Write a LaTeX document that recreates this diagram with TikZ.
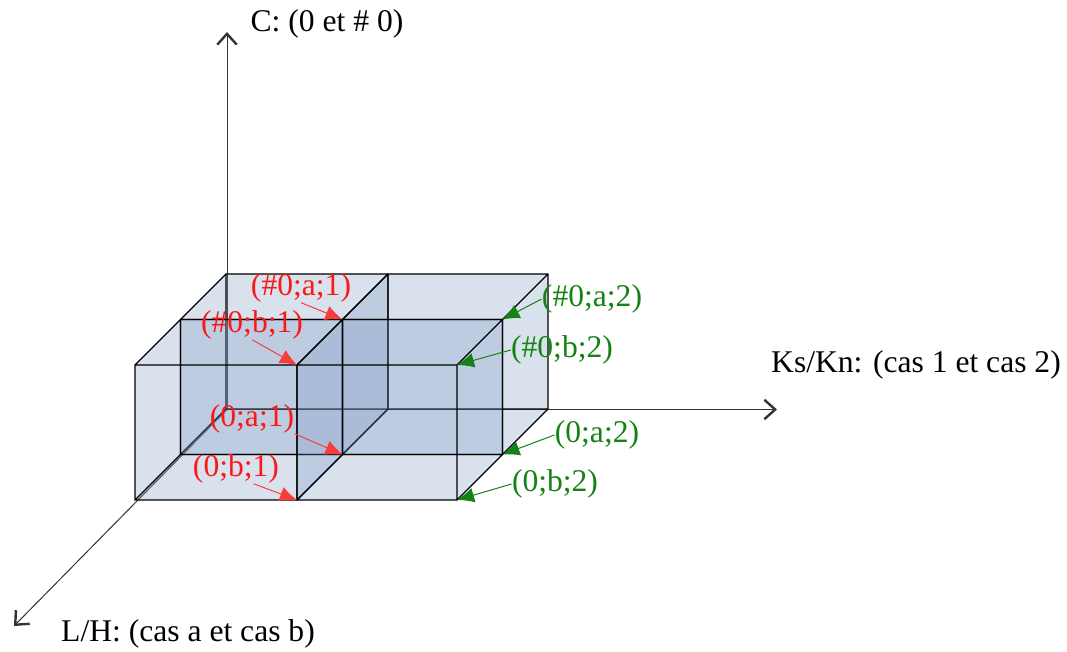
\documentclass[tikz,border=0pt]{standalone}
\usepackage{fontspec}
\setmainfont{Liberation Serif}
\usetikzlibrary{arrows.meta}
\definecolor{labred}{RGB}{250,25,25}
\definecolor{labgreen}{RGB}{20,130,20}
\definecolor{boxblue}{RGB}{120,148,192}
\tikzset{
  axis/.style={draw=black!80, line width=0.5pt, -{Straight Barb[length=1.9mm,width=3.4mm,line width=1.2pt]}},
  axislabel/.style={font=\fontsize{15.8}{18}\selectfont, inner sep=0pt},
  redlabel/.style={axislabel, text=labred},
  greenlabel/.style={axislabel, text=labgreen},
  redarrow/.style={draw=labred!85, line width=0.5pt, -{Latex[length=3mm,width=2.6mm]}},
  greenarrow/.style={draw=labgreen, line width=0.5pt, -{Latex[length=3mm,width=2.6mm]}},
  boxface/.style={fill=boxblue, fill opacity=0.28},
  boxedge/.style={draw=black, line width=0.7pt}
}

\begin{document}
\begin{tikzpicture}[x=0.5pt, y=-0.5pt]
  \useasboundingbox (0,0) rectangle (1067,652);

  % axes
  \coordinate (o) at (227,409.5);
  \coordinate (ctip) at (227,32);
  \coordinate (ktip) at (777,409.5);
  \coordinate (ltip) at (14,626);
  \draw[axis] (o) -- (ctip);
  \draw[axis] (o) -- (ktip);
  \draw[axis] (o) -- (ltip);

  % the four boxes, slab a behind slab b
  \foreach \xa/\xb/\s in {135/297/1, 297/457/1, 135/297/0, 297/457/0} {
    \begin{scope}[shift={(45.5*\s,-45.5*\s)}]
      \fill[boxface] (\xa,500) rectangle (\xb,365);
      \fill[boxface] (\xa,365) -- (\xb,365) -- ++(45.5,-45.5) -- ({\xa+45.5},319.5) -- cycle;
      \fill[boxface] (\xb,365) -- ++(45.5,-45.5) -- ++(0,135) -- (\xb,500) -- cycle;
      \draw[boxedge] (\xa,500) rectangle (\xb,365)
        ({\xa+45.5},454.5) rectangle ({\xb+45.5},319.5)
        (\xa,365) -- ++(45.5,-45.5) (\xb,365) -- ++(45.5,-45.5)
        (\xb,500) -- ++(45.5,-45.5) (\xa,500) -- ++(45.5,-45.5);
    \end{scope}
  }

  % corners pointed at
  \coordinate (b1t) at (297,365);
  \coordinate (b1b) at (297,500);
  \coordinate (a1t) at (342.5,319.5);
  \coordinate (a1b) at (342.5,454.5);
  \coordinate (b2t) at (457,365);
  \coordinate (b2b) at (457,500);
  \coordinate (a2t) at (502.5,319.5);
  \coordinate (a2b) at (502.5,454.5);

  \node[axislabel] (clab) at (327,24) {C: (0 et \# 0)};
  \node[axislabel] (klab) at (916,365) {Ks/Kn: (cas 1 et cas 2)};
  \node[axislabel] (llab) at (188,634) {L/H: (cas a et cas b)};

  \node[redlabel] (na1) at (301,288) {(\#0;a;1)};
  \node[redlabel] (nb1) at (252,325) {(\#0;b;1)};
  \node[redlabel] (za1) at (252,419) {(0;a;1)};
  \node[redlabel] (zb1) at (236,469) {(0;b;1)};

  \node[greenlabel] (na2) at (592,299) {(\#0;a;2)};
  \node[greenlabel] (nb2) at (562,350) {(\#0;b;2)};
  \node[greenlabel] (za2) at (597,435) {(0;a;2)};
  \node[greenlabel] (zb2) at (555,484) {(0;b;2)};

  \draw[redarrow] (na1.south) -- (a1t);
  \draw[redarrow] (nb1.south) -- (b1t);
  \draw[redarrow] (za1.south east) -- (a1b);
  \draw[redarrow] (zb1.-40) -- (b1b);

  \draw[greenarrow] (na2.west) -- (a2t);
  \draw[greenarrow] (nb2.west) -- (b2t);
  \draw[greenarrow] (za2.west) -- (a2b);
  \draw[greenarrow] (zb2.west) -- (b2b);
\end{tikzpicture}
\end{document}
